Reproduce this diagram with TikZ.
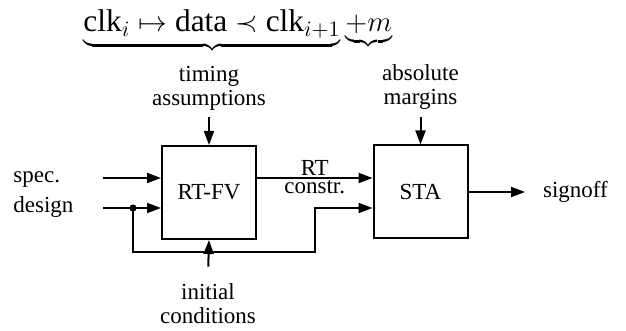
\documentclass[tikz,border=0pt]{standalone}
\usepackage{fontspec}
\setmainfont{Liberation Serif}
\usetikzlibrary{arrows.meta,positioning}

\begin{document}
\begin{tikzpicture}[x=0.5pt,y=-0.5pt,
    font=\fontsize{11.5}{12}\selectfont,
    blk/.style={draw,line width=1pt,minimum width=47pt,minimum height=46.5pt,inner sep=0pt},
    sig/.style={line width=1pt,-{Triangle[length=7pt,width=5pt]}}]
  \useasboundingbox (0,0) rectangle (626,331);
  % timing relation on top
  \node[anchor=base west,inner sep=0pt,font=\fontsize{15.7}{18}\selectfont] (eq) at (83,32)
    {$\underbrace{\mathrm{clk}_i \mapsto \mathrm{data} \prec \mathrm{clk}_{i+1}}\underbrace{+m}$};
  % the two tools
  \node[blk] (fv) at (209,192.5) {RT-FV};
  \node[blk] (sta) at (420.5,192) {STA};
  % side inputs from above and below
  \node[anchor=south,align=center] (ta) at (209,117) {timing\\assumptions};
  \draw[sig] (ta.south) -- (fv.north);
  \node[anchor=south,align=center] (am) at (420.5,117) {absolute\\margins};
  \draw[sig] (am.south) -- (sta.north);
  \node[anchor=north,align=center] (ic) at (208,276) {initial\\conditions};
  \draw[sig,shorten <=4.7pt] (ic.north) -- (fv.south);
  % spec and design
  \node[anchor=base west,inner sep=0pt] (spec) at (13,183) {spec.};
  \node[anchor=base west,inner sep=0pt] (des) at (13,213) {design};
  \coordinate (specin) at (103,178);
  \coordinate (desin) at (103,208);
  \draw[sig] (specin) -- (specin -| fv.west);
  \draw[sig] (desin) -- (desin -| fv.west);
  % design also goes to STA
  \coordinate (tap) at (133,208);
  \coordinate (bend) at (315,208);
  \fill (tap) circle (1.8pt);
  \draw[sig] (tap) -- ++(0,44) -| (bend) -- (bend -| sta.west);
  % RT constraints
  \draw[sig] (fv.east |- specin) -- (sta.west |- specin)
    node[midway,above,inner sep=0.5pt] (rt) {RT}
    node[midway,below,inner sep=1pt] (rc) {constr.};
  % output
  \node[anchor=west] (so) at (536,192) {signoff};
  \draw[sig,shorten >=5.5pt] (sta.east) -- (so.west);
\end{tikzpicture}
\end{document}
